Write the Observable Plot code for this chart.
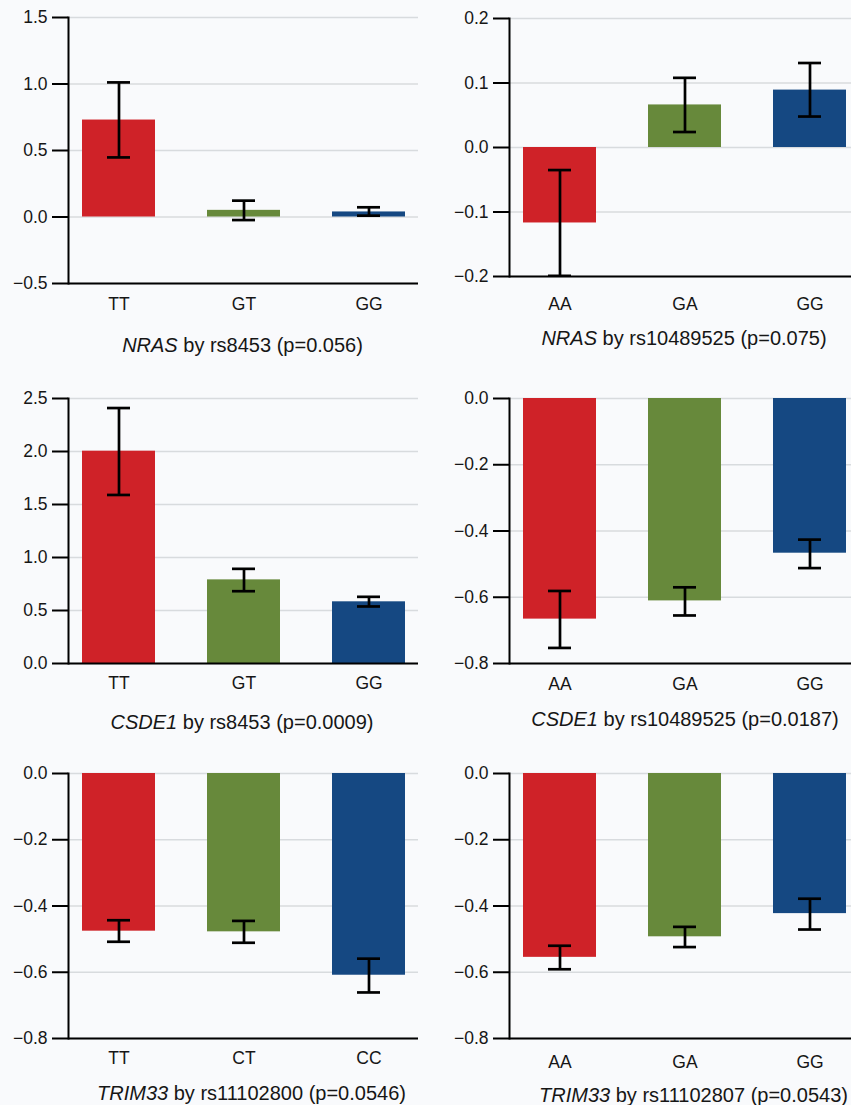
<!DOCTYPE html>
<html>
<head>
<meta charset="utf-8">
<script src="https://cdn.jsdelivr.net/npm/d3@7"></script>
<script src="https://cdn.jsdelivr.net/npm/@observablehq/plot@0.6"></script>
<style>
  html, body { margin: 0; padding: 0; background: #f9fafc; }
  #root { position: relative; width: 851px; height: 1105px; overflow: hidden; background: #f9fafc;
          font-family: "Liberation Sans", Arial, Helvetica, sans-serif; color: #161616; }
  .panel { position: absolute; width: 430px; }
  .panel svg { max-width: none !important; }
  .title { position: absolute; width: 420px; height: 24px; line-height: 24px; text-align: center;
           font-size: 20px; white-space: nowrap; color: #161616; }
</style>
</head>
<body>
<div id="root"></div>
<script>
// ---------- data ----------
const genoRs8453 = ["TT", "GT", "GG"];
const genoRs10489525 = ["AA", "GA", "GG"];
const genoRs11102800 = ["TT", "CT", "CC"];
const genoRs11102807 = ["AA", "GA", "GG"];
const barColors = ["#cf2228", "#67893b", "#154882"];

// NRAS by rs8453
const nrasRs8453Mean = [0.729, 0.050, 0.038];
const nrasRs8453Lo   = [0.448, -0.023, 0.010];
const nrasRs8453Hi   = [1.012, 0.123, 0.073];
// NRAS by rs10489525
const nrasRs10489525Mean = [-0.117, 0.066, 0.089];
const nrasRs10489525Lo   = [-0.199, 0.024, 0.048];
const nrasRs10489525Hi   = [-0.035, 0.108, 0.131];
// CSDE1 by rs8453
const csde1Rs8453Mean = [2.003, 0.789, 0.582];
const csde1Rs8453Lo   = [1.590, 0.682, 0.538];
const csde1Rs8453Hi   = [2.410, 0.893, 0.629];
// CSDE1 by rs10489525
const csde1Rs10489525Mean = [-0.666, -0.611, -0.467];
const csde1Rs10489525Lo   = [-0.753, -0.655, -0.512];
const csde1Rs10489525Hi   = [-0.581, -0.570, -0.426];
// TRIM33 by rs11102800
const trim33Rs11102800Mean = [-0.476, -0.478, -0.609];
const trim33Rs11102800Lo   = [-0.508, -0.511, -0.661];
const trim33Rs11102800Hi   = [-0.443, -0.445, -0.559];
// TRIM33 by rs11102807
const trim33Rs11102807Mean = [-0.555, -0.493, -0.423];
const trim33Rs11102807Lo   = [-0.591, -0.524, -0.471];
const trim33Rs11102807Hi   = [-0.520, -0.463, -0.378];

// axis ticks
const yTicksA = [-0.5, 0, 0.5, 1.0, 1.5];
const yTicksB = [-0.2, -0.1, 0, 0.1, 0.2];
const yTicksC = [0, 0.5, 1.0, 1.5, 2.0, 2.5];
const yTicksD = [-0.8, -0.6, -0.4, -0.2, 0];

// titles
const genes = ["NRAS", "NRAS", "CSDE1", "CSDE1", "TRIM33", "TRIM33"];
const snps = ["rs8453", "rs10489525", "rs8453", "rs10489525", "rs11102800", "rs11102807"];
const pValues = ["0.056", "0.075", "0.0009", "0.0187", "0.0546", "0.0543"];

// ---------- drawing ----------
const FONT = '"Liberation Sans", Arial, Helvetica, sans-serif';
const root = document.getElementById("root");

function panel(o) {
  const mT = 12, mB = 50;
  const h = o.plotBottom - o.plotTop;
  const data = o.cats.map((c, i) => ({g: c, v: o.mean[i], lo: o.lo[i], hi: o.hi[i], col: barColors[i]}));
  const ticks = o.ticks;
  const svg = Plot.plot({
    width: 430,
    height: h + mT + mB,
    marginLeft: 68, marginRight: 12, marginTop: mT, marginBottom: mB,
    style: {background: "transparent", fontFamily: FONT, fontSize: "17.5px", color: "#161616",
            overflow: "visible", maxWidth: "none"},
    x: {domain: o.cats, paddingInner: 0.416, paddingOuter: 0.104, axis: null, label: null},
    y: {domain: [ticks[0], ticks[ticks.length - 1]], axis: null, label: null},
    color: {type: "identity"},
    marks: [
      Plot.gridY(ticks, {stroke: "#d8dbde", strokeOpacity: 1, strokeWidth: 1.6}),
      Plot.barY(data, {x: "g", y: "v", fill: "col"}),
      Plot.ruleX(data, {x: "g", y1: "lo", y2: "hi", stroke: "#000", strokeWidth: 2.7, clip: true}),
      Plot.tickY(data, {x: "g", y: "lo", stroke: "#000", strokeWidth: 2.7, insetLeft: 25, insetRight: 25, clip: true}),
      Plot.tickY(data, {x: "g", y: "hi", stroke: "#000", strokeWidth: 2.7, insetLeft: 25, insetRight: 25, clip: true}),
      Plot.ruleY([ticks[0]], {stroke: "#000", strokeWidth: 2}),
      Plot.frame({anchor: "left", stroke: "#000", strokeWidth: 2}),
      Plot.axisY(ticks, {tickSize: 16, tickPadding: 5, fontSize: 17.5, stroke: "#000", strokeWidth: 2,
                         tickFormat: d3.format(".1f"), label: null}),
      Plot.axisX({tickSize: 0, tickPadding: o.labelPad, fontSize: 17.5, label: null})
    ]
  });
  const wrap = document.createElement("div");
  wrap.className = "panel";
  wrap.style.left = o.left + "px";
  wrap.style.top = (o.plotTop - mT) + "px";
  wrap.appendChild(svg);
  root.appendChild(wrap);

  const t = document.createElement("div");
  t.className = "title";
  t.innerHTML = `<i>${genes[o.k]}</i> by ${snps[o.k]} (p=${pValues[o.k]})`;
  t.style.left = (o.titleCx - 210) + "px";
  t.style.top = (o.titleCy - 12) + "px";
  root.appendChild(t);
}

panel({k: 0, cats: genoRs8453, mean: nrasRs8453Mean, lo: nrasRs8453Lo, hi: nrasRs8453Hi, ticks: yTicksA,
       left: 0, plotTop: 17, plotBottom: 283, labelPad: 14.5, titleCx: 242.5, titleCy: 345});
panel({k: 1, cats: genoRs10489525, mean: nrasRs10489525Mean, lo: nrasRs10489525Lo, hi: nrasRs10489525Hi, ticks: yTicksB,
       left: 441, plotTop: 18, plotBottom: 276, labelPad: 21, titleCx: 684, titleCy: 338});
panel({k: 2, cats: genoRs8453, mean: csde1Rs8453Mean, lo: csde1Rs8453Lo, hi: csde1Rs8453Hi, ticks: yTicksC,
       left: 0, plotTop: 398, plotBottom: 663, labelPad: 13.5, titleCx: 242, titleCy: 722});
panel({k: 3, cats: genoRs10489525, mean: csde1Rs10489525Mean, lo: csde1Rs10489525Lo, hi: csde1Rs10489525Hi, ticks: yTicksD,
       left: 441, plotTop: 398, plotBottom: 663, labelPad: 14.5, titleCx: 685, titleCy: 719});
panel({k: 4, cats: genoRs11102800, mean: trim33Rs11102800Mean, lo: trim33Rs11102800Lo, hi: trim33Rs11102800Hi, ticks: yTicksD,
       left: 0, plotTop: 773, plotBottom: 1038, labelPad: 13.5, titleCx: 251.5, titleCy: 1093});
panel({k: 5, cats: genoRs11102807, mean: trim33Rs11102807Mean, lo: trim33Rs11102807Lo, hi: trim33Rs11102807Hi, ticks: yTicksD,
       left: 441, plotTop: 773, plotBottom: 1038, labelPad: 17.5, titleCx: 693.5, titleCy: 1095});
</script>
</body>
</html>
